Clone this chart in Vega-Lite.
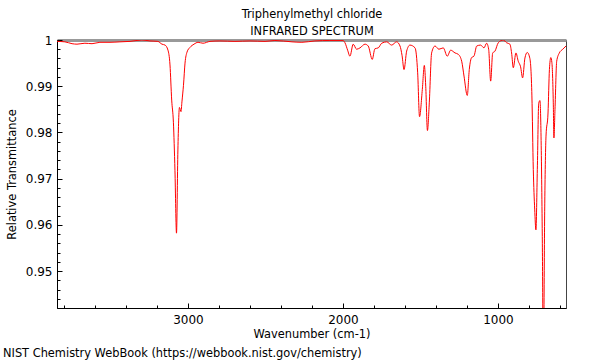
{
  "$schema": "https://vega.github.io/schema/vega-lite/v6.json",
  "width": 509,
  "height": 268,
  "autosize": {"type": "none"},
  "padding": {"left": 57, "top": 40, "right": 34, "bottom": 52},
  "background": "white",
  "config": {
    "view": {"stroke": "#444444", "strokeWidth": 1},
    "font": "DejaVu Sans"
  },
  "title": {
    "text": "NIST Chemistry WebBook (https://webbook.nist.gov/chemistry)",
    "orient": "bottom",
    "anchor": "start",
    "frame": "group",
    "dx": -54,
    "offset": -15,
    "fontSize": 11.4,
    "fontWeight": "normal",
    "font": "DejaVu Sans",
    "color": "black"
  },
  "data": {
    "values": [
      {"wavenumber": 3845, "transmittance": 0.9997},
      {"wavenumber": 3794, "transmittance": 0.9996},
      {"wavenumber": 3748, "transmittance": 0.9992},
      {"wavenumber": 3716, "transmittance": 0.9991},
      {"wavenumber": 3665, "transmittance": 0.9993},
      {"wavenumber": 3619, "transmittance": 0.9992},
      {"wavenumber": 3568, "transmittance": 0.9995},
      {"wavenumber": 3503, "transmittance": 0.9995},
      {"wavenumber": 3439, "transmittance": 0.9996},
      {"wavenumber": 3374, "transmittance": 0.9997},
      {"wavenumber": 3297, "transmittance": 1.0},
      {"wavenumber": 3245, "transmittance": 0.9998},
      {"wavenumber": 3194, "transmittance": 0.9997},
      {"wavenumber": 3168, "transmittance": 0.9991},
      {"wavenumber": 3148, "transmittance": 0.9989},
      {"wavenumber": 3129, "transmittance": 0.9978},
      {"wavenumber": 3116, "transmittance": 0.9946},
      {"wavenumber": 3105, "transmittance": 0.987},
      {"wavenumber": 3094, "transmittance": 0.9822},
      {"wavenumber": 3084, "transmittance": 0.9718},
      {"wavenumber": 3074, "transmittance": 0.9582},
      {"wavenumber": 3065, "transmittance": 0.9762},
      {"wavenumber": 3055, "transmittance": 0.9854},
      {"wavenumber": 3045, "transmittance": 0.9845},
      {"wavenumber": 3039, "transmittance": 0.9866},
      {"wavenumber": 3029, "transmittance": 0.9902},
      {"wavenumber": 3019, "transmittance": 0.995},
      {"wavenumber": 3006, "transmittance": 0.9974},
      {"wavenumber": 2987, "transmittance": 0.9984},
      {"wavenumber": 2961, "transmittance": 0.9991},
      {"wavenumber": 2935, "transmittance": 0.9995},
      {"wavenumber": 2903, "transmittance": 0.9993},
      {"wavenumber": 2858, "transmittance": 0.9997},
      {"wavenumber": 2794, "transmittance": 0.9998},
      {"wavenumber": 2697, "transmittance": 0.9997},
      {"wavenumber": 2600, "transmittance": 0.9998},
      {"wavenumber": 2503, "transmittance": 0.9997},
      {"wavenumber": 2439, "transmittance": 0.9999},
      {"wavenumber": 2329, "transmittance": 0.9996},
      {"wavenumber": 2265, "transmittance": 0.9995},
      {"wavenumber": 2181, "transmittance": 0.9998},
      {"wavenumber": 2084, "transmittance": 0.9999},
      {"wavenumber": 2019, "transmittance": 0.9999},
      {"wavenumber": 2000, "transmittance": 0.9999},
      {"wavenumber": 1987, "transmittance": 0.9994},
      {"wavenumber": 1970, "transmittance": 0.9978},
      {"wavenumber": 1955, "transmittance": 0.9965},
      {"wavenumber": 1934, "transmittance": 0.9991},
      {"wavenumber": 1912, "transmittance": 0.998},
      {"wavenumber": 1890, "transmittance": 0.9983},
      {"wavenumber": 1858, "transmittance": 0.9991},
      {"wavenumber": 1837, "transmittance": 0.9987},
      {"wavenumber": 1811, "transmittance": 0.9958},
      {"wavenumber": 1794, "transmittance": 0.9981},
      {"wavenumber": 1772, "transmittance": 0.9983},
      {"wavenumber": 1750, "transmittance": 0.9993},
      {"wavenumber": 1718, "transmittance": 0.9996},
      {"wavenumber": 1686, "transmittance": 0.9989},
      {"wavenumber": 1654, "transmittance": 0.9996},
      {"wavenumber": 1632, "transmittance": 0.9987},
      {"wavenumber": 1619, "transmittance": 0.9967},
      {"wavenumber": 1606, "transmittance": 0.9936},
      {"wavenumber": 1589, "transmittance": 0.9976},
      {"wavenumber": 1568, "transmittance": 0.9989},
      {"wavenumber": 1535, "transmittance": 0.9983},
      {"wavenumber": 1518, "transmittance": 0.9929},
      {"wavenumber": 1506, "transmittance": 0.9834},
      {"wavenumber": 1488, "transmittance": 0.9893},
      {"wavenumber": 1475, "transmittance": 0.9945},
      {"wavenumber": 1466, "transmittance": 0.99},
      {"wavenumber": 1455, "transmittance": 0.9804},
      {"wavenumber": 1443, "transmittance": 0.9864},
      {"wavenumber": 1428, "transmittance": 0.9972},
      {"wavenumber": 1406, "transmittance": 0.9987},
      {"wavenumber": 1381, "transmittance": 0.998},
      {"wavenumber": 1353, "transmittance": 0.9983},
      {"wavenumber": 1327, "transmittance": 0.9965},
      {"wavenumber": 1305, "transmittance": 0.9978},
      {"wavenumber": 1277, "transmittance": 0.9972},
      {"wavenumber": 1256, "transmittance": 0.9969},
      {"wavenumber": 1234, "transmittance": 0.9954},
      {"wavenumber": 1219, "transmittance": 0.9922},
      {"wavenumber": 1198, "transmittance": 0.988},
      {"wavenumber": 1185, "transmittance": 0.9936},
      {"wavenumber": 1170, "transmittance": 0.9962},
      {"wavenumber": 1155, "transmittance": 0.9965},
      {"wavenumber": 1137, "transmittance": 0.9987},
      {"wavenumber": 1112, "transmittance": 0.9989},
      {"wavenumber": 1090, "transmittance": 0.9983},
      {"wavenumber": 1073, "transmittance": 0.9993},
      {"wavenumber": 1060, "transmittance": 0.998},
      {"wavenumber": 1047, "transmittance": 0.9911},
      {"wavenumber": 1034, "transmittance": 0.9972},
      {"wavenumber": 1019, "transmittance": 0.9976},
      {"wavenumber": 998, "transmittance": 0.9994},
      {"wavenumber": 966, "transmittance": 1.0},
      {"wavenumber": 944, "transmittance": 0.9994},
      {"wavenumber": 923, "transmittance": 0.9991},
      {"wavenumber": 912, "transmittance": 0.9972},
      {"wavenumber": 901, "transmittance": 0.994},
      {"wavenumber": 884, "transmittance": 0.9972},
      {"wavenumber": 869, "transmittance": 0.9954},
      {"wavenumber": 854, "transmittance": 0.9942},
      {"wavenumber": 841, "transmittance": 0.9918},
      {"wavenumber": 826, "transmittance": 0.9961},
      {"wavenumber": 811, "transmittance": 0.9973},
      {"wavenumber": 794, "transmittance": 0.996},
      {"wavenumber": 781, "transmittance": 0.9879},
      {"wavenumber": 772, "transmittance": 0.972},
      {"wavenumber": 763, "transmittance": 0.9634},
      {"wavenumber": 755, "transmittance": 0.9589},
      {"wavenumber": 746, "transmittance": 0.972},
      {"wavenumber": 737, "transmittance": 0.9863},
      {"wavenumber": 729, "transmittance": 0.9869},
      {"wavenumber": 722, "transmittance": 0.9792},
      {"wavenumber": 714, "transmittance": 0.9575},
      {"wavenumber": 707, "transmittance": 0.93},
      {"wavenumber": 698, "transmittance": 0.9647},
      {"wavenumber": 690, "transmittance": 0.9792},
      {"wavenumber": 677, "transmittance": 0.9842},
      {"wavenumber": 668, "transmittance": 0.9936},
      {"wavenumber": 659, "transmittance": 0.9962},
      {"wavenumber": 652, "transmittance": 0.9951},
      {"wavenumber": 643, "transmittance": 0.9864},
      {"wavenumber": 639, "transmittance": 0.9788},
      {"wavenumber": 632, "transmittance": 0.985},
      {"wavenumber": 621, "transmittance": 0.9954},
      {"wavenumber": 604, "transmittance": 0.9972},
      {"wavenumber": 582, "transmittance": 0.998},
      {"wavenumber": 561, "transmittance": 0.9987}
    ]
  },
  "layer": [
    {
      "mark": {"type": "line", "color": "#ff0000", "strokeWidth": 1, "clip": true, "interpolate": "monotone"},
      "encoding": {
        "x": {
          "field": "wavenumber",
          "type": "quantitative",
          "scale": {"domain": [561, 3845], "reverse": true, "zero": false, "nice": false},
          "axis": {
            "orient": "bottom",
            "title": "Wavenumber (cm-1)",
            "titleFont": "DejaVu Sans",
            "titleFontSize": 11.4,
            "titleFontWeight": "normal",
            "titleColor": "black",
            "titlePadding": 3,
            "values": [600, 800, 1000, 1200, 1400, 1600, 1800, 2000, 2200, 2400, 2600, 2800, 3000, 3200, 3400, 3600, 3800],
            "labelExpr": "datum.value % 1000 === 0 ? toString(datum.value) : ''",
            "labelFont": "DejaVu Sans",
            "labelFontSize": 12,
            "labelColor": "black",
            "labelPadding": 11,
            "labelFlush": false,
            "tickSize": {"condition": {"test": "datum.value % 1000 === 0", "value": -5}, "value": -3},
            "tickColor": "black",
            "domainColor": "black",
            "grid": false
          }
        },
        "y": {
          "field": "transmittance",
          "type": "quantitative",
          "scale": {"domain": [0.942, 1], "zero": false, "nice": false},
          "axis": {
            "title": "Relative Transmittance",
            "titleFont": "DejaVu Sans",
            "titleFontSize": 11.4,
            "titleFontWeight": "normal",
            "titleColor": "black",
            "titlePadding": 8,
            "values": [0.942, 0.944, 0.946, 0.948, 0.95, 0.952, 0.954, 0.956, 0.958, 0.96, 0.962, 0.964, 0.966, 0.968, 0.97, 0.972, 0.974, 0.976, 0.978, 0.98, 0.982, 0.984, 0.986, 0.988, 0.99, 0.992, 0.994, 0.996, 0.998, 1],
            "labelExpr": "abs(datum.value * 100 - round(datum.value * 100)) < 0.01 ? toString(round(datum.value * 100) / 100) : ''",
            "labelFont": "DejaVu Sans",
            "labelFontSize": 12,
            "labelColor": "black",
            "labelPadding": 10,
            "labelFlush": false,
            "labelOverlap": false,
            "tickSize": {"condition": {"test": "abs(datum.value * 100 - round(datum.value * 100)) < 0.01", "value": -5}, "value": -3},
            "tickColor": "black",
            "domainColor": "black",
            "grid": false
          }
        }
      }
    },
    {
      "mark": {"type": "line", "opacity": 0},
      "encoding": {
        "x": {
          "field": "wavenumber",
          "type": "quantitative",
          "axis": {
            "orient": "top",
            "title": ["Triphenylmethyl chloride", "INFRARED SPECTRUM"],
            "titleFont": "DejaVu Sans",
            "titleFontSize": 11.4,
            "titleFontWeight": "normal",
            "titleColor": "black",
            "titleLineHeight": 17,
            "titlePadding": 4,
            "labels": false,
            "ticks": false,
            "grid": false,
            "domainColor": "#999999",
            "domainWidth": 3
          }
        },
        "y": {"field": "transmittance", "type": "quantitative", "axis": null}
      }
    }
  ],
  "resolve": {"axis": {"x": "independent", "y": "independent"}}
}
